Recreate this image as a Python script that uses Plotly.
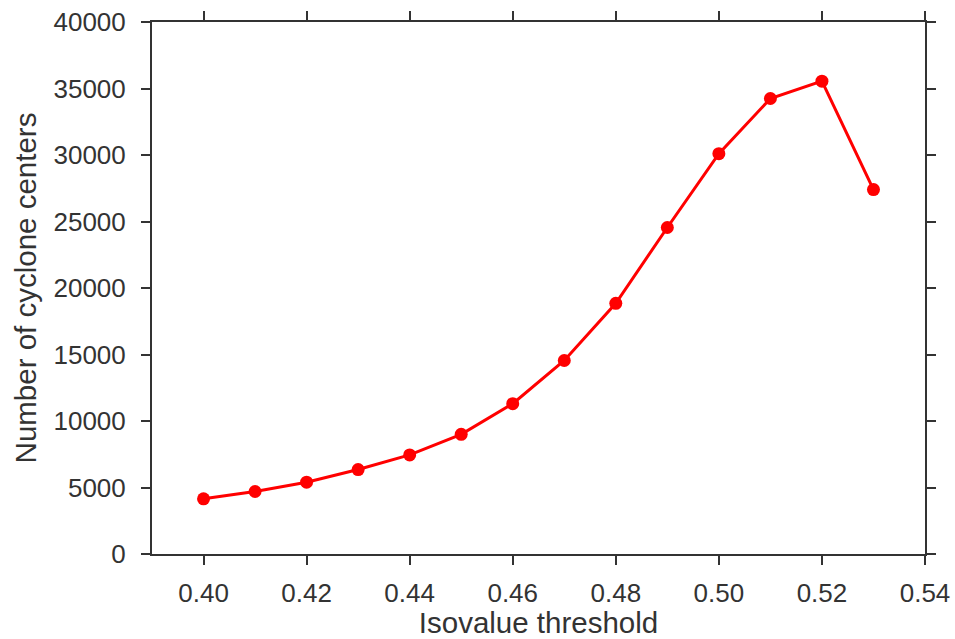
import plotly.graph_objects as go

thresholds = [0.40, 0.41, 0.42, 0.43, 0.44, 0.45, 0.46, 0.47, 0.48, 0.49, 0.50, 0.51, 0.52, 0.53]
centers = [4150, 4700, 5400, 6350, 7450, 9000, 11300, 14550, 18850, 24550, 30100, 34250, 35550, 27400]

x_ticks = [0.40, 0.42, 0.44, 0.46, 0.48, 0.50, 0.52, 0.54]
x_ticklabels = ["0.40", "0.42", "0.44", "0.46", "0.48", "0.50", "0.52", "0.54"]
y_ticks = [0, 5000, 10000, 15000, 20000, 25000, 30000, 35000, 40000]

FONT = "Liberation Sans, Arial, sans-serif"
fig = go.Figure()
fig.add_trace(go.Scatter(
    x=thresholds, y=centers, mode="lines+markers",
    line=dict(color="#ff0000", width=3),
    marker=dict(color="#ff0000", size=13),
    showlegend=False,
))

axis_common = dict(
    showline=True, linecolor="#333333", linewidth=2,
    mirror="allticks", ticks="outside", ticklen=9, tickwidth=1.5, tickcolor="#333333",
    showgrid=False, zeroline=False, automargin=False,
    tickfont=dict(family=FONT, size=26, color="#333333"),
)

fig.update_layout(
    width=955, height=639,
    margin=dict(l=152, r=30, t=22, b=85),
    plot_bgcolor="white", paper_bgcolor="white",
    xaxis=dict(
        range=[0.39, 0.54], tickvals=x_ticks, ticktext=x_ticklabels,
        ticklabelstandoff=6,
        title=dict(text="Isovalue threshold", standoff=6,
                   font=dict(family=FONT, size=29.5, color="#333333")),
        **axis_common,
    ),
    yaxis=dict(
        range=[0, 40000], tickvals=y_ticks, ticktext=[str(v) for v in y_ticks],
        ticklabelstandoff=10,
        title=dict(text="Number of cyclone centers", standoff=8,
                   font=dict(family=FONT, size=29.5, color="#333333")),
        **axis_common,
    ),
)

fig.write_html("out.html")
